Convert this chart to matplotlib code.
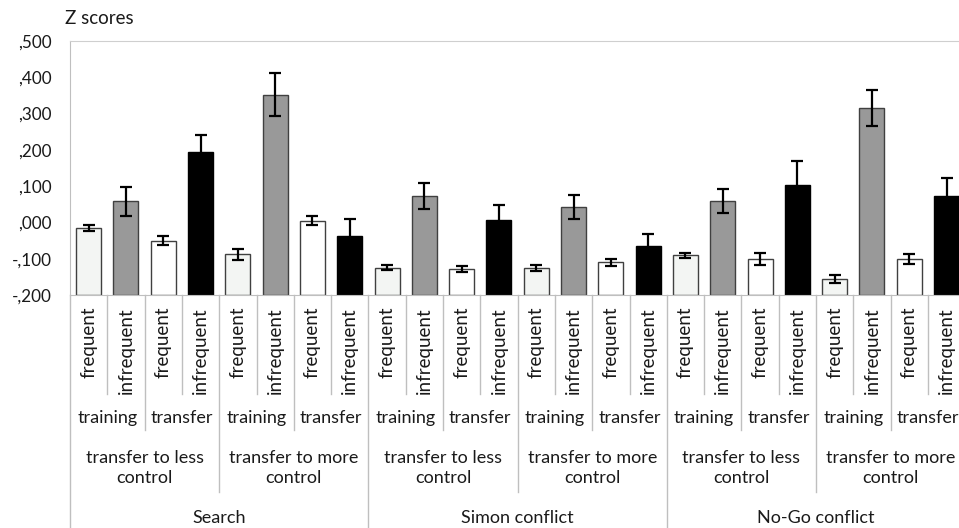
import matplotlib
matplotlib.use('Agg')
import matplotlib.pyplot as plt
import matplotlib.transforms as mtransforms

plt.rcParams['font.family'] = ['Lato', 'DejaVu Sans']

# bar heights (z scores) and standard errors, in plotting order
tasks = ['Search', 'Simon conflict', 'No-Go conflict']
directions = ['transfer to less\ncontrol', 'transfer to more\ncontrol']
phases = ['training', 'transfer']
freqs = ['frequent', 'infrequent']

values = [-0.015, 0.059, -0.050, 0.195, -0.088, 0.352, 0.005, -0.037,
          -0.125, 0.072, -0.128, 0.007, -0.125, 0.042, -0.110, -0.064,
          -0.091, 0.059, -0.101, 0.102, -0.157, 0.315, -0.101, 0.072]
errors = [0.009, 0.040, 0.013, 0.047, 0.015, 0.060, 0.012, 0.046,
          0.007, 0.036, 0.009, 0.040, 0.008, 0.033, 0.010, 0.031,
          0.008, 0.033, 0.017, 0.068, 0.011, 0.050, 0.013, 0.050]
yticks = [-0.2, -0.1, 0.0, 0.1, 0.2, 0.3, 0.4, 0.5]

# fill per (phase, frequency)
fills = ['#f3f5f3', '#999999', '#ffffff', '#000000']

W, H = 959, 528
FS = 13
TXT = '#1a1a1a'
fig = plt.figure(figsize=(W / 100, H / 100), dpi=100)

left_px, right_px, top_px, bot_px = 70, 965.2, 41, 295
ax = fig.add_axes([left_px / W, (H - bot_px) / H,
                   (right_px - left_px) / W, (bot_px - top_px) / H])

n = len(values)
x = [i + 0.5 for i in range(n)]
colors = [fills[i % 4] for i in range(n)]
edges = ['#000000' if c == '#000000' else '#404040' for c in colors]

ax.bar(x, [v - yticks[0] for v in values], bottom=yticks[0], width=0.67,
       color=colors, edgecolor=edges, linewidth=1.0, zorder=2)
ax.errorbar(x, values, yerr=errors, fmt='none', ecolor='black',
            elinewidth=1.6, capsize=4.5, capthick=1.6, zorder=3)

ax.set_xlim(0, n)
ax.set_ylim(yticks[0], yticks[-1])
ax.set_yticks(yticks)


def zfmt(v):
    s = '%.3f' % abs(v)
    s = s.replace('0.', ',', 1)
    return ('-' if v < 0 else '') + s


ax.set_yticklabels([zfmt(v) for v in yticks], fontsize=12.3, color=TXT)
ax.tick_params(axis='y', length=0, pad=13)
ax.set_xticks([])
for side in ['left', 'bottom']:
    ax.spines[side].set_color('#bfbfbf')
ax.spines['top'].set_color('#cfcfcf')
ax.spines['right'].set_visible(False)

fig.text(65 / W, 1 - 18 / H, 'Z scores', fontsize=13.5, va='center',
         ha='left', color=TXT)

# multi-level category axis below the plot
tr = mtransforms.blended_transform_factory(ax.transData, fig.transFigure)


def fy(px):
    return 1 - px / H


def sep(xpos, ypx):
    ax.plot([xpos, xpos], [fy(bot_px), fy(ypx)], color='#bfbfbf', lw=1.0,
            transform=tr, clip_on=False)


i = 0
for t, task in enumerate(tasks):
    for d, direction in enumerate(directions):
        for p, phase in enumerate(phases):
            for f, freq in enumerate(freqs):
                ax.text(i + 0.5, fy(307), freq, rotation=90, ha='center',
                        va='top', fontsize=FS + 0.5, color=TXT,
                        transform=tr)
                if f == 0:
                    sep(i + 1, 394)
                i += 1
            ax.text(i - 1, fy(418), phase, ha='center', va='center',
                    fontsize=FS, color=TXT, transform=tr)
            if p == 0:
                sep(i, 430)
        ax.text(i - 2, fy(468), direction, ha='center', va='center',
                fontsize=FS, color=TXT, transform=tr, linespacing=1.3)
        if d == 0:
            sep(i, 492)
    ax.text(i - 4, fy(518), task, ha='center', va='center', fontsize=FS,
            color=TXT, transform=tr)
    sep(i, H)
sep(0, H)

fig.savefig('out.png', dpi=100)
